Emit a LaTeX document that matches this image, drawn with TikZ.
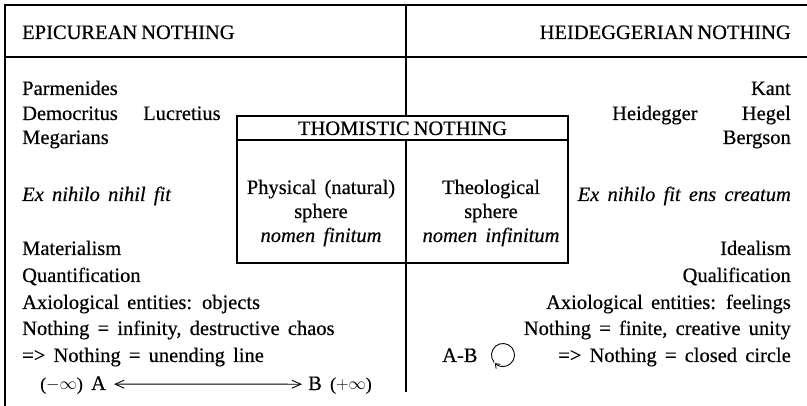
\documentclass[tikz,border=0pt]{standalone}
\usepackage{fontspec}
\setmainfont[WordSpace=1.6,FakeBold=0.4]{Liberation Serif}
\usetikzlibrary{arrows.meta}
\begin{document}
\begin{tikzpicture}[x=1pt,y=-1pt,
  txt/.style={inner sep=0pt, font=\fontsize{20.5}{24.5}\selectfont},
  ltxt/.style={txt, anchor=base west},
  rtxt/.style={txt, anchor=base east},
  ctxt/.style={txt, anchor=base},
  rule/.style={line width=1.1pt, black},
  barbarrow/.style={line width=0.9pt, {Straight Barb[length=9pt,width=8pt]}-{Straight Barb[length=9pt,width=8pt]}}]
\useasboundingbox (0,0) rectangle (807,406);
% frame
\draw[rule] (5,406) -- (5,5) -- (807,5);
\draw[rule] (5,57) -- (807,57);
\draw[rule] (406,5) -- (406,392);
% headers
\node[ltxt] (epi) at (22,39) {EPICUREAN\hspace{4pt}NOTHING};
\node[rtxt] (hei) at (791,39) {HEIDEGGERIAN\hspace{4pt}NOTHING};
% left column
\node[ltxt] (parm) at (22,95) {Parmenides};
\node[ltxt] (demo) at (22,120) {Democritus};
\node[ltxt] (lucr) at (143,120) {Lucretius};
\node[ltxt] (mega) at (22,144) {Megarians};
\node[ltxt] (exl) at (22,201) {\itshape Ex nihilo nihil fit};
\node[ltxt] (mat) at (22,255) {Materialism};
\node[ltxt] (quan) at (22,282) {Quantification};
\node[ltxt] (axl) at (22,309) {Axiological entities: objects};
\node[ltxt] (nol) at (22,335) {Nothing = infinity, destructive chaos};
\node[ltxt] (unl) at (22,362) {=> Nothing = unending line};
\node[ltxt] (ma) at (40,390) {{\fontsize{18}{20}\selectfont($-\infty$)} A};
\node[ltxt] (pb) at (308,390) {B {\fontsize{18}{20}\selectfont($+\infty$)}};
\coordinate (aL) at ([xshift=8pt,yshift=1pt]ma.east);
\coordinate (aR) at ([xshift=-6pt,yshift=1pt]pb.west);
\draw[barbarrow] (aL) -- (aR);
% right column
\node[rtxt] (kant) at (791,95) {Kant};
\node[ltxt] (heid) at (612,120) {Heidegger};
\node[rtxt] (hege) at (791,120) {Hegel};
\node[rtxt] (berg) at (791,144) {Bergson};
\node[rtxt] (exr) at (791,201) {\itshape Ex nihilo fit ens creatum};
\node[rtxt] (ide) at (791,255) {Idealism};
\node[rtxt] (qual) at (791,282) {Qualification};
\node[rtxt] (axr) at (791,309) {Axiological entities: feelings};
\node[rtxt] (nor) at (791,335) {Nothing = finite, creative unity};
\node[rtxt] (ccl) at (791,362) {=> Nothing = closed circle};
\node[ltxt] (ab) at (442,362) {A-B};
\coordinate (cc) at (503,355);
\draw[line width=0.9pt, -{Straight Barb[length=4pt,width=6pt]}]
  ([shift={(140:11.5)}]cc) arc[start angle=140, end angle=495, radius=11.5];
% Thomistic box
\draw[rule, fill=white] (237,116) rectangle (568,263);
\draw[rule] (237,140) -- (568,140);
\draw[rule] (406,140) -- (406,263);
\node[ctxt] (tho) at (402.5,135) {THOMISTIC\hspace{4pt}NOTHING};
\node[ctxt] (phy1) at (321,194) {Physical (natural)};
\node[ctxt] (phy2) at (321,218) {sphere};
\node[ctxt] (phy3) at (321,242) {\itshape nomen finitum};
\node[ctxt] (the1) at (491,194) {Theological};
\node[ctxt] (the2) at (491,218) {sphere};
\node[ctxt] (the3) at (491,242) {\itshape nomen infinitum};
\end{tikzpicture}
\end{document}
